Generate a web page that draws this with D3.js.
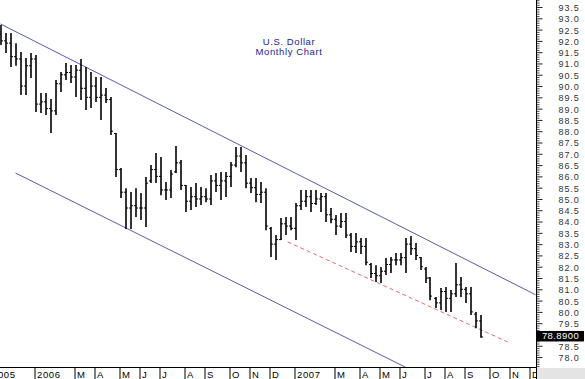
<!DOCTYPE html>
<html>
<head>
<meta charset="utf-8">
<script src="https://cdn.jsdelivr.net/npm/d3@7"></script>
<style>
html, body { margin: 0; padding: 0; background: #fff; overflow: hidden; }
svg { display: block; font-family: "Liberation Sans", Arial, sans-serif; }
</style>
</head>
<body>
<svg id="chart" width="585" height="379"></svg>
<script>
// weekly bars, U.S. Dollar index, week of 13 Nov 2005 to week of 16 Sep 2007
const firstWeek = new Date(2005, 10, 13);
const lastWeek = new Date(2007, 8, 16);

const highs = [
	92.70, 92.35, 92.35, 91.90, 91.51, 91.24, 91.46, 91.37, 89.69, 89.69,
	89.43, 90.27, 90.62, 91.02, 90.93, 90.93, 91.20, 90.84, 90.62, 90.40,
	90.40, 89.91, 89.51, 87.92, 86.37, 85.48, 85.31, 85.48, 85.26, 85.97,
	86.50, 87.03, 86.86, 85.75, 86.28, 87.34, 86.72, 85.62, 85.53, 85.71,
	85.53, 85.48, 86.06, 86.15, 86.19, 86.19, 86.64, 87.30, 87.30, 86.95,
	85.93, 85.93, 85.75, 85.48, 83.76, 83.40, 84.16, 84.20, 84.20, 84.82,
	85.40, 85.40, 85.40, 85.40, 85.26, 85.26, 84.60, 84.29, 84.38, 84.38,
	83.49, 83.49, 83.27, 83.27, 82.16, 82.07, 81.99, 82.39, 82.43, 82.61,
	82.61, 83.27, 83.36, 83.05, 82.43, 81.99, 81.54, 80.66, 81.06, 81.10,
	80.97, 82.16, 81.54, 81.10, 81.10, 79.99, 79.86
];
const lows = [
	91.82, 91.46, 90.84, 90.90, 89.60, 89.60, 90.36, 88.85, 88.81, 88.72,
	87.92, 88.72, 89.74, 90.27, 90.13, 89.51, 89.38, 88.94, 89.03, 89.29,
	88.50, 89.25, 87.83, 85.97, 85.04, 83.67, 83.67, 84.20, 84.07, 83.76,
	85.71, 85.71, 85.17, 84.95, 85.04, 86.15, 85.40, 84.42, 84.51, 84.64,
	84.73, 84.86, 84.73, 85.31, 84.95, 85.09, 85.53, 86.41, 86.19, 85.48,
	85.26, 84.86, 84.82, 83.62, 82.43, 82.30, 83.18, 83.40, 83.62, 83.18,
	84.51, 84.64, 84.42, 84.73, 84.42, 83.98, 83.93, 83.40, 83.71, 83.27,
	82.65, 82.61, 82.56, 82.07, 81.50, 81.32, 81.28, 81.63, 81.72, 82.07,
	82.07, 81.72, 82.52, 82.30, 81.85, 81.28, 80.52, 80.17, 80.08, 79.99,
	79.99, 80.66, 80.66, 80.39, 79.86, 79.28, 78.86
];
const opens = [
	92.30, 92.00, 91.90, 91.30, 91.20, 90.00, 90.90, 91.20, 89.20, 89.30,
	89.00, 88.90, 90.10, 90.50, 90.60, 90.40, 90.70, 89.90, 89.50, 90.00,
	89.50, 89.60, 89.40, 87.90, 86.30, 85.30, 84.60, 84.70, 84.60, 84.60,
	85.80, 86.30, 86.00, 85.40, 85.40, 86.20, 86.60, 85.60, 84.90, 85.10,
	85.00, 85.10, 85.00, 85.80, 85.60, 85.80, 86.00, 86.50, 86.90, 86.60,
	85.70, 85.50, 85.20, 85.30, 83.70, 83.00, 83.20, 83.90, 83.80, 83.70,
	84.70, 84.90, 85.10, 84.80, 85.00, 85.10, 84.30, 84.10, 83.80, 84.00,
	83.40, 82.90, 83.10, 82.90, 82.10, 81.70, 81.60, 81.80, 82.10, 82.30,
	82.30, 82.40, 83.00, 82.80, 82.40, 81.90, 81.50, 80.60, 80.40, 80.90,
	80.60, 80.80, 81.20, 81.00, 80.80, 79.90, 79.60
];
const closes = [
	92.00, 91.90, 91.30, 91.20, 90.00, 90.90, 91.20, 89.20, 89.30, 89.00,
	88.90, 90.10, 90.50, 90.60, 90.40, 90.70, 89.90, 89.50, 90.00, 89.50,
	89.60, 89.40, 88.00, 86.30, 85.30, 84.60, 84.70, 84.60, 84.60, 85.70,
	86.30, 86.00, 85.40, 85.40, 86.10, 86.60, 85.60, 84.90, 85.10, 85.00,
	85.10, 85.00, 85.80, 85.60, 85.80, 86.00, 86.50, 86.90, 86.60, 85.70,
	85.50, 85.20, 85.30, 83.80, 83.00, 83.20, 83.90, 83.80, 83.70, 84.70,
	84.90, 85.10, 84.80, 85.00, 85.10, 84.30, 84.10, 83.80, 84.00, 83.40,
	82.90, 83.10, 82.90, 82.20, 81.70, 81.60, 81.80, 82.10, 82.30, 82.30,
	82.40, 83.00, 82.80, 82.50, 82.00, 81.50, 80.70, 80.40, 80.90, 80.60,
	80.80, 81.20, 81.00, 80.80, 80.00, 79.60, 78.89
];
const lastClose = 78.89;

// month labels on the time axis (first week of each labelled month)
const tickMonths = [
	'2005-11', '2006-01', '2006-03', '2006-04', '2006-05', '2006-06', '2006-07', '2006-08',
	'2006-09', '2006-10', '2006-11', '2006-12', '2007-01', '2007-03', '2007-04', '2007-05',
	'2007-06', '2007-07', '2007-08', '2007-09', '2007-10', '2007-11', '2007-12'
];
const tickLabels = [
	'2005', '2006', 'M', 'A', 'M', 'J', 'J', 'A', 'S', 'O', 'N', 'D',
	'2007', 'M', 'A', 'M', 'J', 'J', 'A', 'S', 'O', 'N', 'D'
];

// price axis
const priceMin = 77.56;
const priceMax = 93.81;
const priceTicks = d3.range(78, 93.51, 0.5);

// trend channel and support line: [week, price]
const upperLine = [[new Date(2005, 10, 13), 92.75], [new Date(2007, 11, 2), 80.76]];
const lowerLine = [[new Date(2005, 11, 4), 86.15], [new Date(2007, 5, 3), 77.55]];
const supportLine = [[new Date(2006, 11, 20), 83.10], [new Date(2007, 9, 24), 78.67]];

const W = 585;
const H = 379;
const plotRight = 536;
const plotBottom = 367;
const WEEK = 7 * 864e5;

const svg = d3.select('#chart');

const jan = new Date(2006, 0, 1);
const t0 = new Date(jan.getTime() - 7.1 * WEEK);
const t1 = new Date(t0.getTime() + 107.2 * WEEK);

const x = d3.scaleTime().domain([t0, t1]).range([0, plotRight]);
const y = d3.scaleLinear().domain([priceMin, priceMax]).range([plotBottom, 0]);

const weeks = d3.timeWeek.range(firstWeek, d3.timeWeek.offset(lastWeek, 1));
const bars = weeks.map((d, i) => ({
	date: d,
	high: highs[i],
	low: lows[i],
	open: opens[i],
	close: closes[i]
}));

svg.append('defs')
	.append('clipPath')
	.attr('id', 'plot-clip')
	.append('rect')
	.attr('width', plotRight)
	.attr('height', plotBottom);

const plot = svg.append('g').attr('clip-path', 'url(#plot-clip)');

// channel lines
const line = d3.line().x(d => x(d[0])).y(d => y(d[1]));

plot.append('path')
	.datum(upperLine)
	.attr('d', line)
	.attr('fill', 'none')
	.attr('stroke', '#5b5ba6')
	.attr('stroke-width', 1);

plot.append('path')
	.datum(lowerLine)
	.attr('d', line)
	.attr('fill', 'none')
	.attr('stroke', '#5b5ba6')
	.attr('stroke-width', 1);

plot.append('path')
	.datum(supportLine)
	.attr('d', line)
	.attr('fill', 'none')
	.attr('stroke', '#e06c6c')
	.attr('stroke-width', 1)
	.attr('stroke-dasharray', '4,3');

// OHLC bars
const bar = plot.append('g')
	.selectAll('g')
	.data(bars)
	.enter()
	.append('g')
	.attr('stroke', '#000');

bar.append('line')
	.attr('x1', d => Math.round(x(d.date)))
	.attr('x2', d => Math.round(x(d.date)))
	.attr('y1', d => y(d.high))
	.attr('y2', d => y(d.low))
	.attr('stroke-width', 1.6);

bar.append('line')
	.attr('x1', d => Math.round(x(d.date)) - 2)
	.attr('x2', d => Math.round(x(d.date)))
	.attr('y1', d => y(d.open))
	.attr('y2', d => y(d.open))
	.attr('stroke-width', 1);

bar.append('line')
	.attr('x1', d => Math.round(x(d.date)))
	.attr('x2', d => Math.round(x(d.date)) + 2)
	.attr('y1', d => y(d.close))
	.attr('y2', d => y(d.close))
	.attr('stroke-width', 1);

// title
const title = svg.append('text')
	.attr('x', 289)
	.attr('y', 45)
	.attr('text-anchor', 'middle')
	.attr('fill', '#1c1c94')
	.style('font-size', '9.5px')
	.style('letter-spacing', '0.6px');

title.append('tspan').attr('x', 289).text('U.S. Dollar');
title.append('tspan').attr('x', 289).attr('dy', 10).text('Monthly Chart');

// bottom right corner
svg.append('rect')
	.attr('x', plotRight)
	.attr('y', plotBottom + 1)
	.attr('width', W - plotRight)
	.attr('height', H - plotBottom)
	.attr('fill', '#e4e4e4');

// time axis
const monthWeeks = tickMonths.map(m => d3.timeWeek.floor(d3.timeParse('%Y-%m')(m)));

svg.append('defs')
	.append('clipPath')
	.attr('id', 'axis-clip')
	.append('rect')
	.attr('x', -20)
	.attr('width', plotRight + 20)
	.attr('height', H);

const xAxis = svg.append('g')
	.attr('clip-path', 'url(#axis-clip)')
	.attr('transform', `translate(0,${plotBottom + 0.5})`)
	.call(
		d3.axisBottom(x)
			.tickValues(monthWeeks)
			.tickSize(12)
			.tickFormat((d, i) => tickLabels[i])
	);

xAxis.select('.domain').remove();
xAxis.selectAll('.tick line').attr('stroke', '#000').attr('transform', 'translate(-1,0)');
xAxis.selectAll('.tick text')
	.attr('text-anchor', 'start')
	.attr('x', 1)
	.attr('y', 10)
	.attr('dy', 0)
	.attr('fill', '#000')
	.style('font-size', '9.5px')
	.style('letter-spacing', '0.6px')
	.style('font-family', '"Liberation Sans", Arial, sans-serif');

svg.append('line')
	.attr('x1', 0)
	.attr('x2', plotRight)
	.attr('y1', plotBottom + 0.5)
	.attr('y2', plotBottom + 0.5)
	.attr('stroke', '#000');

// price axis
const minorTicks = d3.range(77.6, 93.81, 0.1).filter(v => Math.abs(v * 2 - Math.round(v * 2)) > 0.01);

const yMinor = svg.append('g')
	.attr('transform', `translate(${plotRight + 0.5},0)`)
	.call(d3.axisRight(y).tickValues(minorTicks).tickSize(3).tickFormat(''));
yMinor.select('.domain').remove();
yMinor.selectAll('.tick line').attr('stroke', '#444');

// the last price marker sits over the 79.0 label
const yAxis = svg.append('g')
	.attr('transform', `translate(${plotRight + 0.5},0)`)
	.call(
		d3.axisRight(y)
			.tickValues(priceTicks)
			.tickSize(6)
			.tickPadding(16)
			.tickFormat(d => (Math.abs(d - lastClose) < 0.3 ? '' : d3.format('.1f')(d)))
	);
yAxis.select('.domain').remove();
yAxis.selectAll('.tick line').attr('stroke', '#222');
yAxis.selectAll('.tick text')
	.attr('fill', '#333')
	.attr('dy', '0.38em')
	.style('font-size', '9px')
	.style('letter-spacing', '0.9px')
	.style('font-family', '"Liberation Sans", Arial, sans-serif');

svg.append('line')
	.attr('x1', plotRight + 0.5)
	.attr('x2', plotRight + 0.5)
	.attr('y1', 0)
	.attr('y2', H)
	.attr('stroke', '#000');

// last price marker
svg.append('rect')
	.attr('x', plotRight + 1)
	.attr('y', y(lastClose) - 6)
	.attr('width', 47)
	.attr('height', 10.5)
	.attr('fill', '#000');

svg.append('text')
	.attr('x', plotRight + 24.5)
	.attr('y', y(lastClose) + 2.5)
	.attr('text-anchor', 'middle')
	.attr('fill', '#fff')
	.style('font-size', '9.5px')
	.style('letter-spacing', '0.4px')
	.text(d3.format('.4f')(lastClose));
</script>
</body>
</html>
